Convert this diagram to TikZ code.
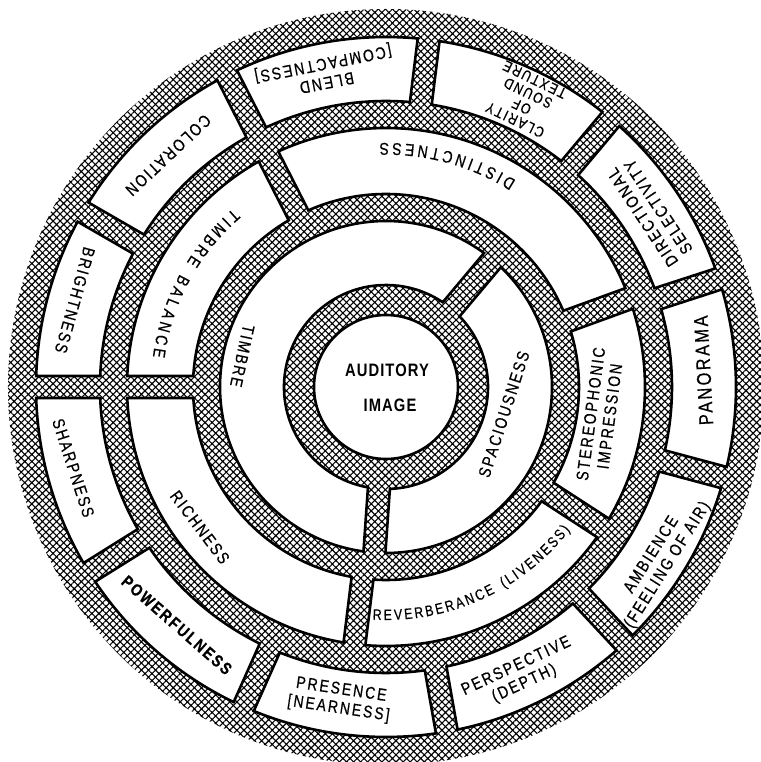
\documentclass[tikz,border=0pt]{standalone}
\usepackage{fontspec}
\newfontfamily\labfont{Liberation Sans}[FakeStretch=0.82,LetterSpace=12,FakeBold=0.5]
\newfontfamily\cenfont{Liberation Sans}[FakeStretch=0.82,LetterSpace=6]
\usetikzlibrary{patterns.meta,decorations.text}

% half width of the hatched spokes between neighbouring boxes
\newcommand\gapw{11}
% annular box between radii #1 < #2 and spoke angles #3 < #4 (counterclockwise),
% the spokes having parallel edges
\newcommand\ringbox[4]{%
  \pgfmathsetmacro\rbAi{#3+asin(\gapw/#1)}%
  \pgfmathsetmacro\rbAo{#3+asin(\gapw/#2)}%
  \pgfmathsetmacro\rbBi{#4-asin(\gapw/#1)}%
  \pgfmathsetmacro\rbBo{#4-asin(\gapw/#2)}%
  \draw[box] (\rbAi:#1) -- (\rbAo:#2)
    arc[start angle=\rbAo,end angle=\rbBo,radius=#2]
    -- (\rbBi:#1)
    arc[start angle=\rbBi,end angle=\rbAi,radius=#1] -- cycle;
}
\newcommand\labsize{\fontsize{17}{19}\selectfont}

\begin{document}
\begin{tikzpicture}[x=1pt,y=1pt,
  box/.style={draw=black,fill=white,line width=2.6pt},
  lab/.style={font=\labfont\labsize,align=center,inner sep=0pt},
  cen/.style={font=\cenfont\bfseries\fontsize{18}{20}\selectfont,inner sep=0pt},
  hatch/.style={pattern={Hatch[angle=45,distance=5pt,line width=1.1pt]}},
  arclab/.style={decorate,decoration={text along path,
      text align={fit to path},
      text={|\labfont\labsize|#1}}},
  arclabsmall/.style={decorate,decoration={text along path,
      text align={fit to path},
      text={|\labfont\fontsize{15}{17}\selectfont|#1}}}]

\useasboundingbox (-386,-375) rectangle (374,387);

% hatched disc behind everything
\fill[hatch] (0,0) circle[radius=378];

% core
\draw[box] (0,0) circle[radius=72];
\node[cen] (aud) at (1,17) {AUDITORY};
\node[cen] (img) at (4,-18) {IMAGE};

% first ring
\ringbox{102}{166}{50}{266}
\ringbox{102}{166}{-94}{50}

% second ring
\ringbox{193}{259}{20}{117}
\ringbox{193}{259}{117}{180}
\ringbox{193}{259}{180}{263}
\ringbox{193}{259}{263}{327}
\ringbox{193}{259}{-33}{20}

% third ring
\ringbox{286}{350}{117}{150}
\ringbox{286}{350}{83}{117}
\ringbox{286}{350}{50}{83}
\ringbox{286}{350}{18}{50}
\ringbox{286}{350}{-15}{18}
\ringbox{286}{350}{-47}{-15}
\ringbox{286}{350}{-80}{-47}
\ringbox{286}{350}{-114}{-80}
\ringbox{286}{350}{-148}{-114}
\ringbox{286}{350}{-180}{-148}
\ringbox{286}{350}{150}{180}

% labels of the first ring
\node[lab,rotate=257.8] (timbre) at (167.8:147) {TIMBRE};
\node[lab,rotate=72] (spac) at (-13:121) {SPACIOUSNESS};

% labels of the second ring, set along arcs
\path[arclab={TIMBRE BALANCE}] (130.6:235) arc[start angle=130.6,end angle=172.6,radius=235];
\path[arclab={DISTINCTNESS}] (57.8:244) arc[start angle=57.8,end angle=91.5,radius=244];
\path[arclabsmall={REVERBERANCE (LIVENESS)}] (-93.3:233) arc[start angle=-93.3,end angle=-37.8,radius=233];
\node[lab,rotate=82.5] (stereo) at (-7.5:216) {STEREOPHONIC\\IMPRESSION};
\node[lab,rotate=-53] (rich) at (-143:233) {RICHNESS};

% labels of the third ring
\node[lab,rotate=223.2] (color) at (133.2:318) {COLORATION};
\node[lab,rotate=191] (blend) at (101:321) {BLEND\\{[COMPACTNESS]}};
\node[lab,rotate=154.2,font=\labfont\fontsize{15}{15}\selectfont] (clar) at (64.2:319) {CLARITY\\OF\\SOUND\\TEXTURE};
\node[lab,rotate=123.5] (dirsel) at (33.5:317) {DIRECTIONAL\\SELECTIVITY};
\node[lab,rotate=93,font=\labfont\fontsize{20}{22}\selectfont] (pano) at (3:318) {PANORAMA};
\node[lab,rotate=57.7] (amb) at (-32.3:324) {AMBIENCE\\(FEELING OF AIR)};
\node[lab,rotate=25] (persp) at (-65:318) {PERSPECTIVE\\(DEPTH)};
\node[lab,rotate=-8.4] (pres) at (-98.4:316) {PRESENCE\\{[NEARNESS]}};
\node[lab,rotate=-41.3,font=\labfont\bfseries\labsize] (power) at (-131.3:317) {POWERFULNESS};
\node[lab,rotate=-72] (sharp) at (-165.5:323) {SHARPNESS};
\node[lab,rotate=254.4] (bright) at (164.4:323) {BRIGHTNESS};
\end{tikzpicture}
\end{document}
